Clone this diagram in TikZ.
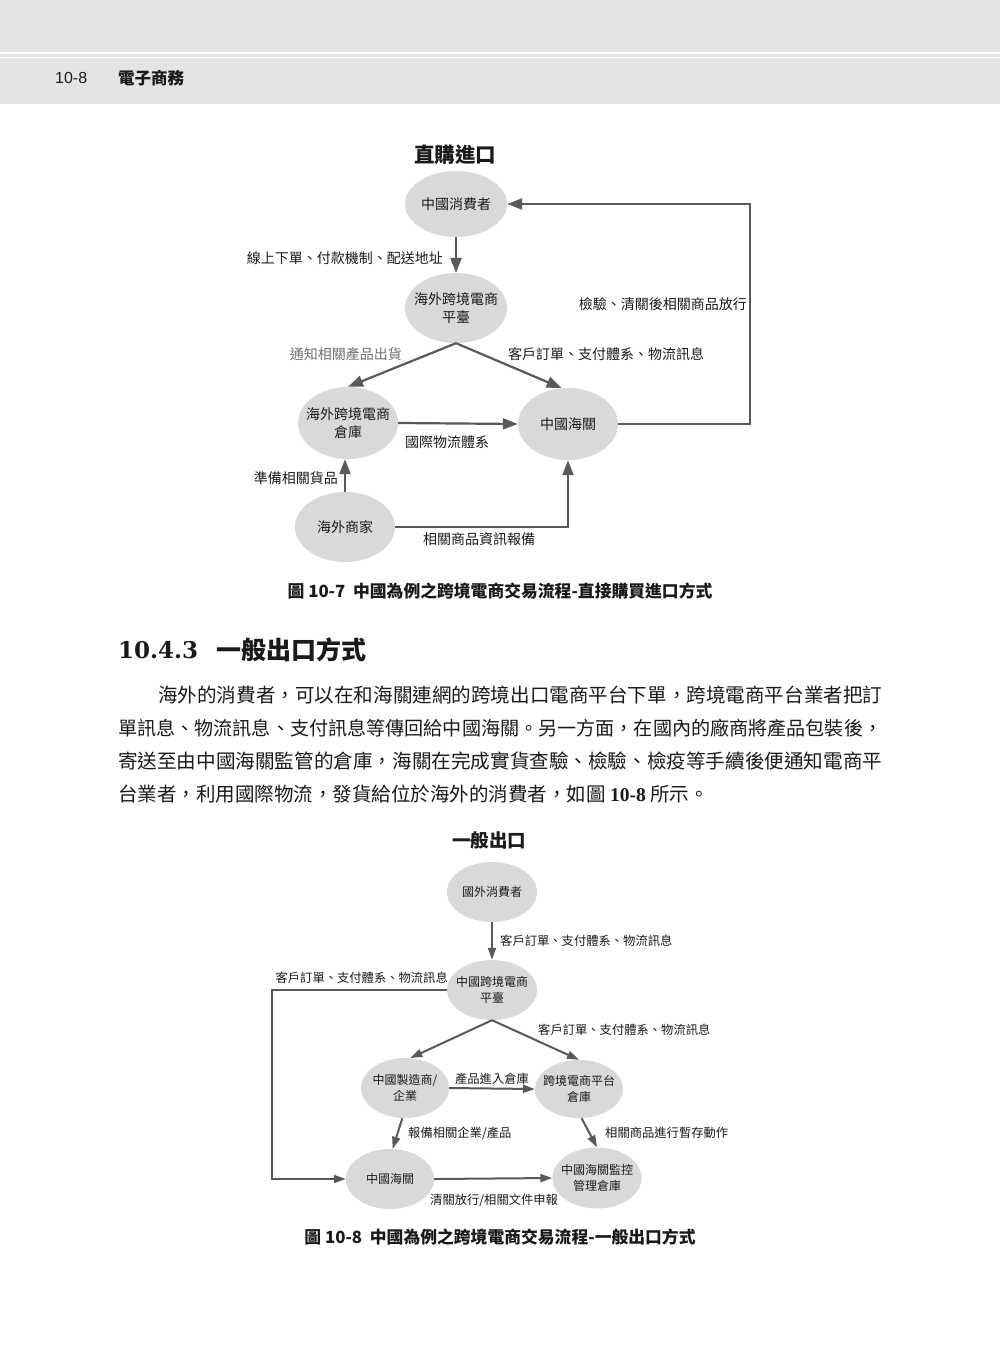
\documentclass[tikz,border=0pt]{standalone}
\usepackage{fontspec}
\setmainfont{Liberation Sans}
\newfontfamily\cjk{Noto Sans CJK TC}
\newfontfamily\dserif{DejaVu Serif}
\newfontfamily\lserif{Liberation Serif}
\usetikzlibrary{shapes.geometric,arrows.meta}
\newcommand\fsz[2]{\fontsize{#1}{#2}\selectfont}
\definecolor{headgray}{HTML}{E4E4E4}
\definecolor{ellfill}{HTML}{D9D9D9}
\definecolor{linegray}{HTML}{595959}
\definecolor{txt}{HTML}{1A1A1A}
\definecolor{softtxt}{HTML}{707070}
\tikzset{
  ellA/.style={ellipse, fill=ellfill, inner xsep=-10pt, inner ysep=0pt, align=center, text=txt, font=\cjk\fsz{14}{18}},
  ellB/.style={ellipse, fill=ellfill, inner xsep=-10pt, inner ysep=0pt, align=center, text=txt, font=\cjk\fsz{12}{16}},
  arrA/.style={draw=linegray, line width=2.2pt, -{Triangle[length=15pt,width=11pt]}},
  arrB/.style={draw=linegray, line width=2pt, -{Triangle[length=12pt,width=8pt]}},
  labA/.style={inner sep=0pt, text=txt, font=\cjk\fsz{14}{18}},
  labB/.style={inner sep=0pt, text=txt, font=\cjk\fsz{12.3}{16}},
  captxt/.style={inner sep=0pt, text=txt, font=\cjk\bfseries\fsz{16.8}{20}},
  bodytxt/.style={inner sep=0pt, anchor=west, text=txt},
}
\begin{document}
\begin{tikzpicture}[x=1pt,y=-1pt]
\useasboundingbox (0,0) rectangle (1000,1356);
\fill[white] (0,0) rectangle (1000,1356);
% header band
\fill[headgray] (0,0) rectangle (1000,104);
\draw[white, line width=2.2pt] (0,53) -- (1000,53);
\draw[white, line width=1.4pt] (0,57.5) -- (1000,57.5);
\node[inner sep=0pt, anchor=west, text=txt, font=\fsz{16}{18}] (pg) at (55,78) {10-8};
\node[inner sep=0pt, anchor=west, text=txt, font=\cjk\bfseries\fsz{16.5}{18}] (bk) at (118,78) {電子商務};

% ===== Diagram 1 =====
\node[inner sep=0pt, text=txt, font=\cjk\bfseries\fsz{20.5}{22}] (t1) at (455,155) {直購進口};
\node[ellA, minimum width=102pt, minimum height=66pt] (c1) at (456,204) {中國消費者};
\node[ellA, minimum width=102pt, minimum height=70pt] (p1) at (456,308) {海外跨境電商\\平臺};
\node[ellA, minimum width=100pt, minimum height=72pt] (w1) at (348,423) {海外跨境電商\\倉庫};
\node[ellA, minimum width=100pt, minimum height=72pt] (cu1) at (568,424) {中國海關};
\node[ellA, minimum width=100pt, minimum height=70pt] (m1) at (345,527) {海外商家};

\draw[arrA] (c1.south) -- (p1.north);
\draw[arrA] (p1.south) -- (w1.north);
\draw[arrA] (p1.south) -- (cu1.100);
\draw[arrA] (w1.east) -- (cu1.west);
\draw[arrA] (m1.north) -- (m1.north |- w1.south);
\draw[arrA] (m1.east) -| (cu1.south);
\draw[arrA] (cu1.east) -- ++(132,0) |- (c1.east);

\node[labA, anchor=east] (l1) at (443,258) {線上下單、付款機制、配送地址};
\node[labA, anchor=east] (l2) at (747,304) {檢驗、清關後相關商品放行};
\node[labA, anchor=east, text=softtxt] (l3) at (402,354) {通知相關產品出貨};
\node[labA, anchor=west] (l4) at (508,354) {客戶訂單、支付體系、物流訊息};
\node[labA, anchor=west] (l5) at (405,442) {國際物流體系};
\node[labA, anchor=east] (l6) at (338,478) {準備相關貨品};
\node[labA, anchor=west] (l7) at (423,539) {相關商品資訊報備};
\node[captxt] (cap1) at (500,591) {圖 10-7\ \ 中國為例之跨境電商交易流程-直接購買進口方式};

% ===== Section heading and body =====
\node[inner sep=0pt, anchor=west, text=txt, font=\dserif\bfseries\fsz{23}{26}] (h1) at (118,650) {10.4.3};
\node[inner sep=0pt, anchor=west, text=txt, font=\cjk\bfseries\fsz{25}{28}] (h2) at (216,650) {一般出口方式};

\node[bodytxt, font=\cjk\fsz{19.57}{22}] (b1) at (158,695) {海外的消費者，可以在和海關連網的跨境出口電商平台下單，跨境電商平台業者把訂};
\node[bodytxt, font=\cjk\fsz{19.1}{22}] (b2) at (118,728) {單訊息、物流訊息、支付訊息等傳回給中國海關。另一方面，在國內的廠商將產品包裝後，};
\node[bodytxt, font=\cjk\fsz{19.59}{22}] (b3) at (118,761) {寄送至由中國海關監管的倉庫，海關在完成實貨查驗、檢驗、檢疫等手續後便通知電商平};
\node[bodytxt, font=\cjk\fsz{19.5}{22}] (b4) at (118,794) {台業者，利用國際物流，發貨給位於海外的消費者，如圖 {\lserif\bfseries 10-8} 所示。};

% ===== Diagram 2 =====
\node[inner sep=0pt, text=txt, font=\cjk\bfseries\fsz{18.5}{20}] (t2) at (489,840) {一般出口};
\node[ellB, minimum width=90pt, minimum height=60pt] (d2) at (492,892) {國外消費者};
\node[ellB, minimum width=90pt, minimum height=60pt] (p2) at (492,990) {中國跨境電商\\平臺};
\node[ellB, minimum width=88pt, minimum height=60pt] (mf2) at (405,1088) {中國製造商/\\企業};
\node[ellB, minimum width=88pt, minimum height=58pt] (wh2) at (579,1089) {跨境電商平台\\倉庫};
\node[ellB, minimum width=88pt, minimum height=60pt] (cu2) at (390,1179) {中國海關};
\node[ellB, minimum width=89pt, minimum height=61pt] (sw2) at (597,1178) {中國海關監控\\管理倉庫};

\draw[arrB] (d2.south) -- (p2.north);
\draw[arrB] (p2.west) -- ++(-175,0) |- (cu2.west);
\draw[arrB] (p2.south) -- (mf2.80);
\draw[arrB] (p2.south) -- (wh2.north);
\draw[arrB] (mf2.east) -- (wh2.west);
\draw[arrB] (mf2.265) -- (cu2.85);
\draw[arrB] (wh2.275) -- (sw2.north);
\draw[arrB] (cu2.east) -- (sw2.west);

\node[labB, anchor=west] (k1) at (500,941) {客戶訂單、支付體系、物流訊息};
\node[labB, anchor=east] (k2) at (448,978) {客戶訂單、支付體系、物流訊息};
\node[labB, anchor=west] (k3) at (538,1030) {客戶訂單、支付體系、物流訊息};
\node[labB] (k4) at (492,1079) {產品進入倉庫};
\node[labB, anchor=west] (k5) at (408,1133) {報備相關企業/產品};
\node[labB, anchor=west] (k6) at (605,1133) {相關商品進行暫存動作};
\node[labB, anchor=west] (k7) at (430,1200) {清關放行/相關文件申報};
\node[captxt] (cap2) at (500,1237) {圖 10-8\ \ 中國為例之跨境電商交易流程-一般出口方式};
\end{tikzpicture}
\end{document}
